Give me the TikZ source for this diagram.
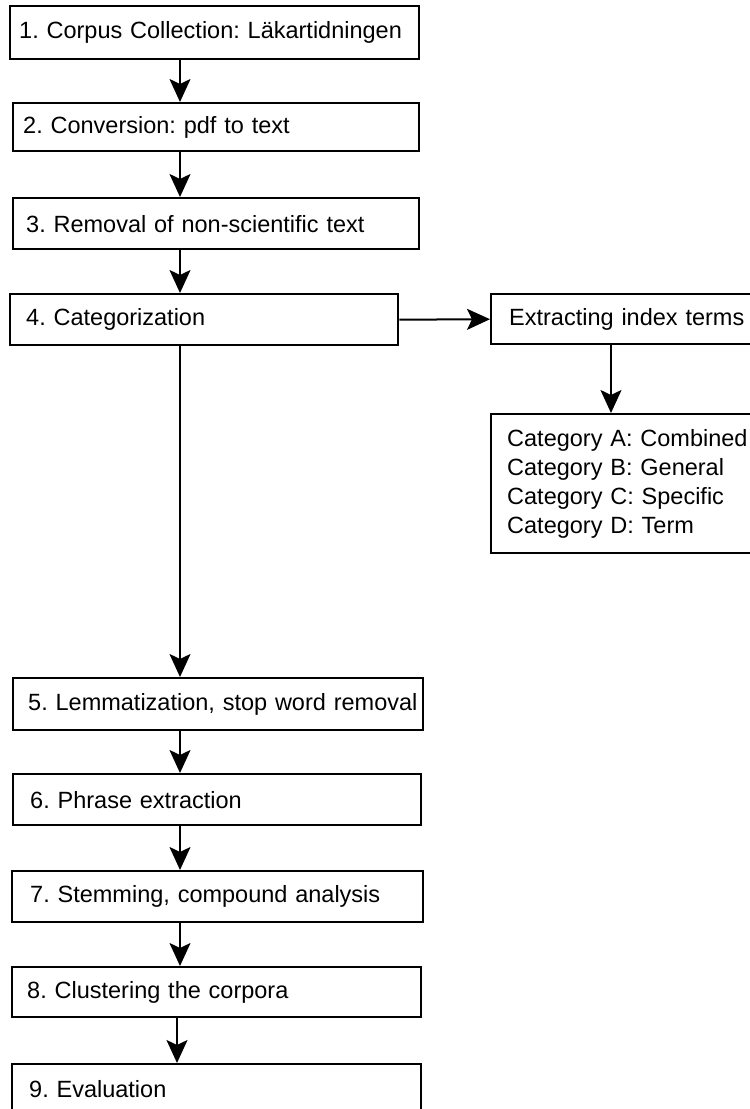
\documentclass[tikz,border=0pt]{standalone}
\usepackage{fontspec}
\setmainfont{Liberation Sans}
\usetikzlibrary{arrows.meta}
\frenchspacing
\newcommand\stagefont{\fontsize{23.5}{29}\selectfont\hyphenpenalty=10000\hbadness=10000\hfuzz=20pt}
\tikzset{
	stage/.style={draw, line width=2.4pt, anchor=north west, align=left, inner ysep=0pt, font=\stagefont},
	flow/.style={line width=2pt, -{Stealth[length=23pt,width=21pt,inset=5pt]}},
}

\begin{document}
\begin{tikzpicture}[x=1pt, y=-1pt]
				\useasboundingbox (0,0) rectangle (750,1109);
				\clip (0,0) rectangle (750,1109);
				% main column
				\node[stage, minimum height=53pt, inner xsep=9pt,  text width=391pt] (corpus)  at (9,5)    {1. Corpus Collection: Läkartidningen};
				\node[stage, minimum height=48pt, inner xsep=10pt, text width=386pt] (convert) at (12,102) {2. Conversion: pdf to text};
				\node[stage, minimum height=51pt, inner xsep=13pt, text width=380pt] (removal) at (12,197) {3. Removal of non-scientific text};
				\node[stage, minimum height=51pt, inner xsep=16pt, text width=356pt] (categ)   at (9,293)  {4. Categorization};
				\node[stage, minimum height=52pt, inner xsep=15pt, text width=380pt] (lemma)   at (12,677) {\mbox{5. Lemmatization, stop word removal}};
				\node[stage, minimum height=51pt, inner xsep=17pt, text width=374pt] (phrase)  at (12,773) {6. Phrase extraction};
				\node[stage, minimum height=51pt, inner xsep=18pt, text width=375pt] (stem)    at (11,870) {7. Stemming, compound analysis};
				\node[stage, minimum height=50pt, inner xsep=15pt, text width=379pt] (cluster) at (11,966) {8. Clustering the corpora};
				\node[stage, minimum height=50pt, inner xsep=17pt, text width=375pt] (evalu)   at (11,1063) {9. Evaluation};
				% side branch
				\node[stage, minimum height=50pt, inner xsep=18pt, text width=264pt] (extract) at (490,293) {Extracting index terms};
				\node[stage, minimum height=139pt, inner xsep=16pt, text width=268pt] (cats)  at (490,413) {Category A: Combined\\Category B: General\\Category C: Specific\\Category D: Term};
				% arrows
				\coordinate (spine) at (180,0);
				\coordinate (branch) at (611,0);
				\foreach \a/\b in {corpus/convert, convert/removal, removal/categ, categ/lemma, lemma/phrase, phrase/stem, stem/cluster}
				\draw[flow] (spine |- \a.south) -- (spine |- \b.north);
				\draw[flow] ([xshift=-3pt]spine |- cluster.south) -- ([xshift=-3pt]spine |- evalu.north);
				\draw[flow] (categ.east) -- (extract.west);
				\draw[flow] (branch |- extract.south) -- (branch |- cats.north);
			\end{tikzpicture}
\end{document}
